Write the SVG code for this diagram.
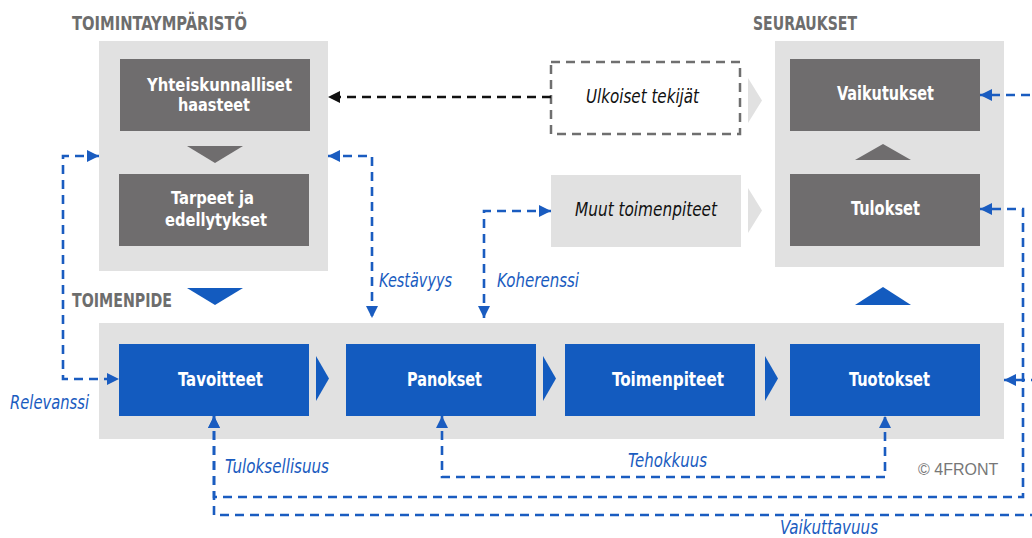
<svg xmlns="http://www.w3.org/2000/svg" width="1032" height="538" viewBox="0 0 1032 538">
<style>
.bg{fill:#e1e1e1}
.dk{fill:#6f6d6e}
.bl{fill:#135bbf}
.title{font-family:"DejaVu Sans Condensed","Roboto Condensed","Liberation Sans Narrow","Liberation Sans",sans-serif;font-stretch:condensed;font-weight:bold;font-size:20px;fill:#6d6d6d}
.lbl{font-family:"DejaVu Sans Condensed","Roboto Condensed","Liberation Sans Narrow","Liberation Sans",sans-serif;font-stretch:condensed;font-weight:bold;font-size:20px;fill:#ffffff}
.lbl2{font-size:18px}
.it{font-family:"DejaVu Sans Condensed","Roboto Condensed","Liberation Sans Narrow","Liberation Sans",sans-serif;font-stretch:condensed;font-style:italic;font-size:20px;fill:#1a5cc0}
.itk{font-family:"DejaVu Sans Condensed","Roboto Condensed","Liberation Sans Narrow","Liberation Sans",sans-serif;font-stretch:condensed;font-style:italic;font-size:20px;fill:#111111}
.cp{font-family:"Liberation Sans",Arial,sans-serif;font-size:16px;fill:#777777}
.bd{fill:none;stroke:#1a5cc0;stroke-width:2.6;stroke-dasharray:9 6}
.kd{fill:none;stroke:#111111;stroke-width:2.6;stroke-dasharray:9 6}
</style>
<defs>
<marker id="ab" viewBox="0 0 12 12" refX="12" refY="6" markerWidth="12" markerHeight="12" markerUnits="userSpaceOnUse" orient="auto-start-reverse">
<path d="M0,0 L12,6 L0,12 z" fill="#1a5cc0"/>
</marker>
<marker id="ak" viewBox="0 0 12 12" refX="12" refY="6" markerWidth="12" markerHeight="12" markerUnits="userSpaceOnUse" orient="auto-start-reverse">
<path d="M0,0 L12,6 L0,12 z" fill="#111111"/>
</marker>
</defs>
<rect width="1032" height="538" fill="#ffffff"/>

<g id="toimintaymparisto">
<text class="title" x="72" y="30" textLength="175" lengthAdjust="spacingAndGlyphs">TOIMINTAYMPÄRISTÖ</text>
<rect class="bg" x="99" y="41" width="229" height="230"/>
</g>
<g id="yhteiskunnalliset-haasteet">
<rect class="dk" x="120" y="59" width="190" height="72"/>
<text class="lbl lbl2" x="147" y="91" textLength="145" lengthAdjust="spacingAndGlyphs">Yhteiskunnalliset</text>
<text class="lbl lbl2" x="178" y="111" textLength="72" lengthAdjust="spacingAndGlyphs">haasteet</text>
</g>
<polygon class="dk" points="187,146 243,146 215,163"/>
<g id="tarpeet">
<rect class="dk" x="119" y="174" width="190" height="72"/>
<text class="lbl lbl2" x="171" y="204" textLength="83" lengthAdjust="spacingAndGlyphs">Tarpeet ja</text>
<text class="lbl lbl2" x="165" y="226" textLength="102" lengthAdjust="spacingAndGlyphs">edellytykset</text>
</g>

<g id="ulkoiset-tekijat">
<rect x="551" y="62" width="189" height="72" fill="none" stroke="#6f6f6f" stroke-width="2.5" stroke-dasharray="9 6"/>
<text class="itk" x="586" y="103" textLength="113" lengthAdjust="spacingAndGlyphs">Ulkoiset tekijät</text>
</g>
<g id="muut-toimenpiteet">
<rect class="bg" x="551" y="175" width="190" height="72"/>
<text class="itk" x="575" y="216" textLength="142" lengthAdjust="spacingAndGlyphs">Muut toimenpiteet</text>
</g>
<polygon class="bg" points="748,78 762,100.5 748,123"/>
<polygon class="bg" points="748,188 762,210.5 748,233"/>

<g id="seuraukset">
<text class="title" x="753" y="30" textLength="104" lengthAdjust="spacingAndGlyphs">SEURAUKSET</text>
<rect class="bg" x="775" y="41" width="229" height="226"/>
</g>
<g id="vaikutukset">
<rect class="dk" x="790" y="59" width="190" height="72"/>
<text class="lbl" x="837" y="100" textLength="97" lengthAdjust="spacingAndGlyphs">Vaikutukset</text>
</g>
<polygon class="dk" points="855,160 911,160 883,144"/>
<g id="tulokset">
<rect class="dk" x="790" y="174" width="190" height="72"/>
<text class="lbl" x="851" y="215" textLength="69" lengthAdjust="spacingAndGlyphs">Tulokset</text>
</g>

<polygon class="bl" points="187,288 243,288 215,305"/>
<polygon class="bl" points="855,305 911,305 883,287"/>

<g id="toimenpide">
<text class="title" x="72" y="307" textLength="100" lengthAdjust="spacingAndGlyphs">TOIMENPIDE</text>
<rect class="bg" x="99" y="323" width="905" height="116"/>
</g>
<g id="tavoitteet">
<rect class="bl" x="119" y="344" width="190" height="72"/>
<text class="lbl" x="178" y="386" textLength="85" lengthAdjust="spacingAndGlyphs">Tavoitteet</text>
</g>
<polygon class="bl" points="316,356 329,378.5 316,401"/>
<g id="panokset">
<rect class="bl" x="346" y="344" width="190" height="72"/>
<text class="lbl" x="407" y="386" textLength="75" lengthAdjust="spacingAndGlyphs">Panokset</text>
</g>
<polygon class="bl" points="543,356 556,378.5 543,401"/>
<g id="toimenpiteet">
<rect class="bl" x="565" y="344" width="190" height="72"/>
<text class="lbl" x="612" y="386" textLength="112" lengthAdjust="spacingAndGlyphs">Toimenpiteet</text>
</g>
<polygon class="bl" points="765,356 778,378.5 765,401"/>
<g id="tuotokset">
<rect class="bl" x="790" y="344" width="190" height="72"/>
<text class="lbl" x="849" y="386" textLength="81" lengthAdjust="spacingAndGlyphs">Tuotokset</text>
</g>

<g id="connectors">
<path class="kd" d="M551,97 H328" marker-end="url(#ak)"/>
<path class="bd" d="M99,156 H63 V379 H119" marker-start="url(#ab)" marker-end="url(#ab)"/>
<path class="bd" d="M328,156 H372 V318" marker-start="url(#ab)" marker-end="url(#ab)"/>
<path class="bd" d="M551,211 H484 V318" marker-start="url(#ab)" marker-end="url(#ab)"/>
<path class="bd" d="M442,416 V477 H885 V416" marker-start="url(#ab)" marker-end="url(#ab)"/>
<path class="bd" d="M214,416 V497 H1023 V209 H980" marker-start="url(#ab)" marker-end="url(#ab)"/>
<path class="bd" d="M214,416 V515 H1045 V95 H980" marker-start="url(#ab)" marker-end="url(#ab)"/>
<path class="bd" d="M1040,380 H1004" marker-end="url(#ab)"/>
</g>

<g id="labels">
<text class="it" x="10" y="409" textLength="79" lengthAdjust="spacingAndGlyphs">Relevanssi</text>
<text class="it" x="379" y="287" textLength="73" lengthAdjust="spacingAndGlyphs">Kestävyys</text>
<text class="it" x="497" y="287" textLength="82" lengthAdjust="spacingAndGlyphs">Koherenssi</text>
<text class="it" x="225" y="473" textLength="104" lengthAdjust="spacingAndGlyphs">Tuloksellisuus</text>
<text class="it" x="628" y="467" textLength="79" lengthAdjust="spacingAndGlyphs">Tehokkuus</text>
<text class="it" x="780" y="534" textLength="98" lengthAdjust="spacingAndGlyphs">Vaikuttavuus</text>
<text class="cp" x="918" y="475">© 4FRONT</text>
</g>
</svg>
